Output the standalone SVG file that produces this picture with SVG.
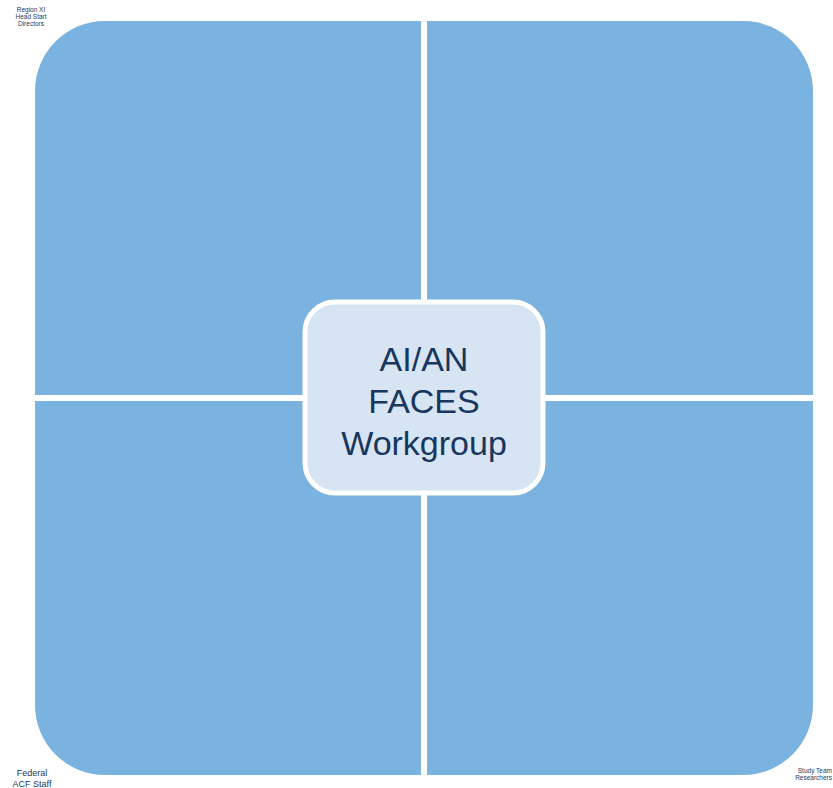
<svg xmlns="http://www.w3.org/2000/svg" width="833" height="788" viewBox="0 0 833 788">
<style>
.q{fill:#7AB3DF;}
.c{fill:#D7E4F3;stroke:#FFFFFF;stroke-width:5;}
.t{font-family:"Liberation Sans",Arial,sans-serif;fill:#17375E;text-anchor:middle;}
.s{font-family:"Liberation Sans",Arial,sans-serif;fill:#1B3A5C;text-anchor:middle;}
.e{font-family:"Liberation Sans",Arial,sans-serif;fill:#1B3A5C;text-anchor:end;}
</style>
<rect width="833" height="788" fill="#FFFFFF"/>
<g id="q-top-left"><path class="q" d="M35,91 A70,70 0 0 1 105,21 H421 V395 H35 Z"/></g>
<g id="q-top-right"><path class="q" d="M427,21 H743 A70,70 0 0 1 813,91 V395 H427 Z"/></g>
<g id="q-bottom-left"><path class="q" d="M35,401 H421 V775 H105 A70,70 0 0 1 35,705 Z"/></g>
<g id="q-bottom-right"><path class="q" d="M427,401 H813 V705 A70,70 0 0 1 743,775 H427 Z"/></g>
<g id="connectors"></g>
<g id="center">
<rect class="c" x="305" y="302" width="238" height="191" rx="30" ry="30"/>
<text class="t" font-size="34"><tspan x="424" y="371">AI/AN</tspan><tspan x="424" y="413">FACES</tspan><tspan x="424" y="455">Workgroup</tspan></text>
</g>
<g id="label-region"><text class="s" font-size="6.5"><tspan x="31" y="12">Region XI</tspan><tspan x="31" y="19">Head Start</tspan><tspan x="31" y="26">Directors</tspan></text></g>
<g id="label-federal"><text class="s" font-size="9"><tspan x="32" y="776">Federal</tspan><tspan x="32" y="787">ACF Staff</tspan></text></g>
<g id="label-study"><text class="e" font-size="6.5"><tspan x="832" y="773">Study Team</tspan><tspan x="832" y="780">Researchers</tspan></text></g>
</svg>
